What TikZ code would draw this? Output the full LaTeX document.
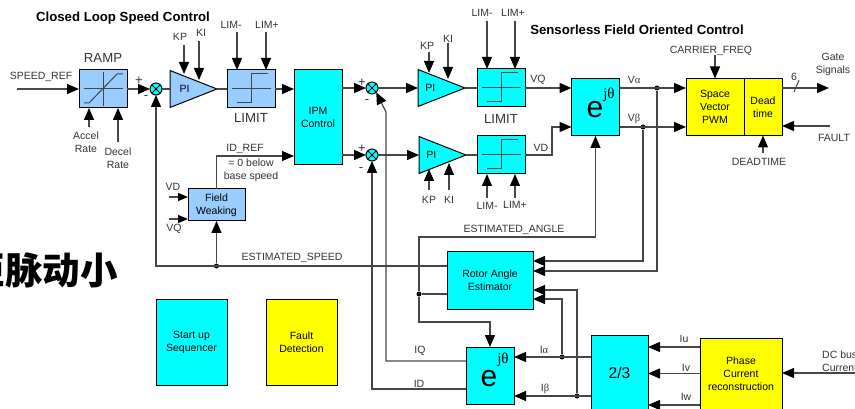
\documentclass[tikz,border=0pt]{standalone}
\usepackage{fontspec}
\setmainfont{Liberation Sans}
\newfontfamily\greekfont{Liberation Serif}
\newfontfamily\cjk{Noto Sans CJK SC}
\usetikzlibrary{arrows.meta, shapes.geometric}
\definecolor{bluefill}{RGB}{153,204,255}
\definecolor{cyanfill}{RGB}{0,255,255}
\definecolor{yellowfill}{RGB}{255,255,0}
\definecolor{linegray}{RGB}{70,70,70}
\tikzset{
    lab/.style = {inner sep = 0pt, align = center, text = black!80, font = \fontsize{10.5}{13}\selectfont},
    biglab/.style = {lab, font = \fontsize{13.2}{15}\selectfont},
    titlelab/.style = {inner sep = 0pt, text = black, font = \fontsize{13.2}{15}\selectfont\bfseries},
    block/.style = {shape = rectangle, draw = black, line width = 1pt, inner sep = 0pt, outer sep = 0pt, align = center, font = \fontsize{10.5}{13}\selectfont},
    ramppanel/.style = {block, fill = bluefill, minimum width = 48pt, minimum height = 38pt},
    limitpanel/.style = {block, fill = cyanfill, minimum width = 48pt, minimum height = 38pt},
    pwmpanel/.style = {block, fill = yellowfill},
    gain/.style = {shape = isosceles triangle, isosceles triangle stretches, anchor = lower side, draw = black, line width = 1pt, inner sep = 0pt, outer sep = 0pt, minimum width = 37pt, minimum height = 47pt, font = \fontsize{10.5}{13}\selectfont},
    summer/.style = {shape = circle, draw = black, fill = cyanfill, line width = 1pt, inner sep = 0pt, outer sep = 0pt, minimum size = 12pt, path picture = {\draw (path picture bounding box.north west) -- (path picture bounding box.south east) (path picture bounding box.north east) -- (path picture bounding box.south west);}},
    joint/.style = {shape = circle, fill = black, inner sep = 0pt, minimum size = 5pt},
    wire/.style = {draw = linegray, line width = 1.2pt},
    flow/.style = {wire, -{Triangle[length = 12pt, width = 10pt, black]}},
    shortflow/.style = {wire, -{Triangle[length = 10pt, width = 8pt, black]}},
    graphline/.style = {draw = linegray, line width = 1pt},
    signlab/.style = {lab, font = \fontsize{13}{13}\selectfont},
    stepcurve/.pic = {
        \draw[graphline] (-19,0) -- (20,0);
        \draw[graphline] (-14,14) -- (0,14) -- (0,-15) -- (17,-15);
    },
    rampcurve/.pic = {
        \draw[graphline] (-19,0) -- (20,0);
        \draw[graphline] (0,-17) -- (0,17);
        \draw[graphline] (-19,14) -- (-14,14) -- (14,-15) -- (20,-15);
    }
}
\begin{document}
\begin{tikzpicture}[x = 1pt, y = -1pt]
    \useasboundingbox (0,0) rectangle (855,409);
    \clip (0,0) rectangle (855,409);
    % titles and the cut off heading
    \node[titlelab] (titlespeed) at (123,18) {Closed Loop Speed Control};
    \node[titlelab] (titlefoc) at (637,30) {Sensorless Field Oriented Control};
    \node[anchor = east, inner sep = 0pt, text = black] (heading) at (118,270) {\cjk\bfseries\fontsize{37.5}{40}\selectfont 矩脉动小};

    % blocks of the speed loop
    \node[ramppanel] (ramp) at (103,89) {};
    \pic at (ramp.center) {rampcurve};
    \node[biglab] (ramplab) at (103,58) {RAMP};
    \node[summer] (sumspeed) at (156,89) {};
    \node[gain, fill = bluefill] (pispeed) at (170,89) {\hspace*{3pt}PI};
    \node[ramppanel] (limspeed) at (251,89) {};
    \pic at (limspeed.center) {stepcurve};
    \node[biglab] (limspeedlab) at (251,118) {LIMIT};
    \node[block, fill = cyanfill, minimum width = 48pt, minimum height = 95pt] (ipm) at (318,117) {IPM\\Control};
    \node[block, fill = bluefill, minimum width = 57pt, minimum height = 32pt] (weak) at (216.5,205) {Field\\Weaking};

    % blocks of the current loops
    \node[summer] (sumq) at (372,88) {};
    \node[summer] (sumd) at (372,155) {};
    \node[gain, fill = cyanfill] (piq) at (418,88) {PI};
    \node[gain, fill = cyanfill] (pid) at (419,155) {PI};
    \node[limitpanel] (limq) at (501,88) {};
    \pic at (limq.center) {stepcurve};
    \node[limitpanel] (limd) at (501,155) {};
    \pic at (limd.center) {stepcurve};
    \node[biglab] (limqlab) at (501,119) {LIMIT};
    \node[block, fill = cyanfill, minimum width = 48pt, minimum height = 57pt] (park) at (595.5,107.5) {};
    \node[inner sep = 0pt, text = black] (parke) at (595,110) {\fontsize{30}{30}\selectfont e};
    \node[inner sep = 0pt, text = black] (parkexp) at (609,95) {\greekfont\fontsize{15}{15}\selectfont jθ};
    \node[pwmpanel, minimum width = 58pt, minimum height = 57pt] (svm) at (715,107) {Space\\Vector\\PWM};
    \node[pwmpanel, minimum width = 38pt, minimum height = 57pt] (dead) at (763,107) {Dead\\time};

    % blocks of the lower row
    \node[block, fill = cyanfill, minimum width = 86pt, minimum height = 57pt] (rotor) at (490,280.5) {Rotor Angle\\Estimator};
    \node[block, fill = cyanfill, minimum width = 48pt, minimum height = 57pt] (clarke) at (490,375.5) {};
    \node[inner sep = 0pt, text = black] (clarkee) at (489,379) {\fontsize{30}{30}\selectfont e};
    \node[inner sep = 0pt, text = black] (clarkeexp) at (503,360) {\greekfont\fontsize{15}{15}\selectfont jθ};
    \node[block, fill = cyanfill, minimum width = 57pt, minimum height = 76pt, font = \fontsize{15.6}{18}\selectfont] (conv) at (619.5,373) {2/3};
    \node[block, fill = yellowfill, minimum width = 82pt, minimum height = 72pt] (phase) at (741,374) {Phase\\Current\\reconstruction};
    \node[block, fill = cyanfill, minimum width = 71pt, minimum height = 86pt] (startup) at (191.5,342) {Start up\\Sequencer};
    \node[block, fill = yellowfill, minimum width = 71pt, minimum height = 86pt] (fault) at (301.5,342) {Fault\\Detection};

    % free ends of the inputs
    \coordinate (speedin) at (17,89);
    \coordinate (accelin) at (89,127);
    \coordinate (decelin) at (118,142);
    \coordinate (kpsin) at (184,45);
    \coordinate (kpsend) at (184,74);
    \coordinate (kisin) at (199,41);
    \coordinate (kisend) at (199,80);
    \coordinate (limsa) at (237,32);
    \coordinate (limsb) at (266,32);
    \coordinate (vdin) at (169,197);
    \coordinate (vqin) at (169,219);
    \coordinate (kpqin) at (429,52);
    \coordinate (kpqend) at (429,73);
    \coordinate (kiqin) at (448,43);
    \coordinate (kiqend) at (448,79);
    \coordinate (limqa) at (487,21);
    \coordinate (limqb) at (515,21);
    \coordinate (kpdin) at (429,190);
    \coordinate (kpdend) at (429,169);
    \coordinate (kidin) at (449,190);
    \coordinate (kidend) at (449,163);
    \coordinate (limda) at (487,198);
    \coordinate (limdb) at (515,198);
    \coordinate (carrier) at (715,55);
    \coordinate (gate) at (829,88);
    \coordinate (faultin) at (830,126);
    \coordinate (deadin) at (763,153);
    \coordinate (busin) at (855,373);

    % speed loop wiring
    \draw[flow] (speedin) -- (speedin -| ramp.west);
    \draw[flow] (accelin) -- (accelin |- ramp.south);
    \draw[flow] (decelin) -- (decelin |- ramp.south);
    \draw[flow] (ramp.east) -- (sumspeed.west);
    \draw[wire] (sumspeed.east) -- (pispeed.lower side);
    \draw[flow] (kpsin) -- (kpsend);
    \draw[flow] (kisin) -- (kisend);
    \draw[wire] (pispeed.apex) -- (limspeed.west);
    \draw[flow] (limsa) -- (limsa |- limspeed.north);
    \draw[flow] (limsb) -- (limsb |- limspeed.north);
    \draw[flow] (limspeed.east) -- (limspeed.east -| ipm.west);
    \draw[flow] (weak.north) |- (ipm.west |- 0,156);
    \draw[shortflow] (vdin) -- (vdin -| weak.west);
    \draw[shortflow] (vqin) -- (vqin -| weak.west);

    % estimated speed
    \node[joint] (speedjoint) at (216.5,266) {};
    \draw[flow] (speedjoint) -- (weak.south);
    \draw[flow] (rotor.west |- 0,266) -| (sumspeed.south);

    % current loop wiring
    \draw[flow] (ipm.east |- sumq) -- (sumq.west);
    \draw[flow] (ipm.east |- sumd) -- (sumd.west);
    \draw[flow] (sumq.east) -- (piq.lower side);
    \draw[flow] (sumd.east) -- (pid.lower side);
    \draw[flow] (kpqin) -- (kpqend);
    \draw[flow] (kiqin) -- (kiqend);
    \draw[flow] (kpdin) -- (kpdend);
    \draw[flow] (kidin) -- (kidend);
    \draw[wire] (piq.apex) -- (limq.west);
    \draw[wire] (pid.apex) -- (limd.west);
    \draw[flow] (limqa) -- (limqa |- limq.north);
    \draw[flow] (limqb) -- (limqb |- limq.north);
    \draw[flow] (limda) -- (limda |- limd.south);
    \draw[flow] (limdb) -- (limdb |- limd.south);
    \draw[flow] (limq.east) -- (park.west |- limq.east);
    \draw[flow] (limd.east) -- (552,155) -- (552,127) -- (park.west |- 0,127);

    % voltages out of the inverse transform
    \node[joint] (jointa) at (657,88) {};
    \node[joint] (jointb) at (643,127) {};
    \draw[flow] (park.east |- jointa) -- (svm.west |- jointa);
    \draw[flow] (park.east |- jointb) -- (svm.west |- jointb);
    \draw[flow] (jointa) |- (rotor.east |- 0,271);
    \draw[flow] (jointb) |- (rotor.east |- 0,261);
    \draw[flow] (carrier) -- (svm.north);
    \draw[flow] (dead.east |- gate) -- (gate);
    \draw[graphline] (794,92) -- (799,80);
    \draw[flow] (faultin) -- (dead.east |- faultin);
    \draw[flow] (deadin) -- (dead.south);

    % estimated angle
    \node[joint] (anglejoint) at (419,294) {};
    \coordinate (anglecorner) at (419,237);
    \draw[flow] (rotor.west |- anglejoint) -- (anglejoint) -- (anglecorner) -| (park.south);
    \draw[flow] (anglejoint) |- (490,322) -- (clarke.north);

    % feedback currents
    \draw[flow] (clarke.west |- 0,361) -| (386,112) -- (sumq.south east);
    \draw[flow] (clarke.west |- 0,389) -| (sumd.south);
    \node[joint] (jointia) at (562,357) {};
    \node[joint] (jointib) at (577,396) {};
    \draw[flow] (conv.west |- jointia) -- (clarke.east |- jointia);
    \draw[flow] (conv.west |- jointib) -- (clarke.east |- jointib);
    \draw[flow] (jointia) |- (rotor.east |- 0,299);
    \draw[flow] (jointib) |- (rotor.east |- 0,290);
    \draw[flow] (phase.west |- 0,347) -- (conv.east |- 0,347);
    \draw[flow] (phase.west |- 0,373.5) -- (conv.east |- 0,373.5);
    \draw[flow] (phase.west |- 0,405) -- (conv.east |- 0,405);
    \draw[flow] (busin) -- (phase.east |- busin);

    % labels
    \node[lab] (speedlab) at (41,77) {SPEED\_REF};
    \node[lab] (accellab) at (86,142) {Accel\\Rate};
    \node[lab] (decellab) at (118,158) {Decel\\Rate};
    \node[signlab] (plusspeed) at (139,81) {+};
    \node[signlab] (minusspeed) at (146,98) {-};
    \node[lab] (kpslab) at (180,37) {KP};
    \node[lab] (kislab) at (201,33) {KI};
    \node[lab] (limsalab) at (231,25) {LIM-};
    \node[lab] (limsblab) at (267,25) {LIM+};
    \node[lab] (idreflab) at (245,149) {ID\_REF};
    \node[lab] (zerolab) at (251,170) {= 0 below\\base speed};
    \node[lab] (vdlab) at (173,187) {VD};
    \node[lab] (vqlab) at (174,229) {VQ};
    \node[lab] (esspeedlab) at (292,258) {ESTIMATED\_SPEED};
    \node[signlab] (plusq) at (362,83) {+};
    \node[signlab] (minusq) at (367,102) {-};
    \node[signlab] (plusd) at (362,149) {+};
    \node[signlab] (minusd) at (361,170) {-};
    \node[lab] (kpqlab) at (427,46) {KP};
    \node[lab] (kiqlab) at (448,39) {KI};
    \node[lab] (limqalab) at (482,13) {LIM-};
    \node[lab] (limqblab) at (513,13) {LIM+};
    \node[lab] (vqoutlab) at (538,80) {VQ};
    \node[lab] (kpdlab) at (429,200) {KP};
    \node[lab] (kidlab) at (449,200) {KI};
    \node[lab] (limdalab) at (487,206) {LIM-};
    \node[lab] (limdblab) at (515,205) {LIM+};
    \node[lab] (vdoutlab) at (541,148) {VD};
    \node[lab] (valab) at (634,80) {V{\greekfont α}};
    \node[lab] (vblab) at (634,119) {V{\greekfont β}};
    \node[lab] (carrierlab) at (711,51) {CARRIER\_FREQ};
    \node[lab] (gatelab) at (833,64) {Gate\\Signals};
    \node[lab] (sixlab) at (794,77) {6};
    \node[lab] (faultlab) at (834,138) {FAULT};
    \node[lab] (deadlab) at (759,162) {DEADTIME};
    \node[lab] (anglelab) at (514,230) {ESTIMATED\_ANGLE};
    \node[lab] (iqlab) at (420,351) {IQ};
    \node[lab] (idlab) at (419,384) {ID};
    \node[lab] (ialab) at (544,350) {I{\greekfont α}};
    \node[lab] (iblab) at (545,389) {I{\greekfont β}};
    \node[lab] (iulab) at (684,339) {Iu};
    \node[lab] (ivlab) at (686,368) {Iv};
    \node[lab] (iwlab) at (686,397) {Iw};
    \node[lab, anchor = west, align = left] (buslab) at (822,361.5) {DC bus\\Current};
\end{tikzpicture}
\end{document}
